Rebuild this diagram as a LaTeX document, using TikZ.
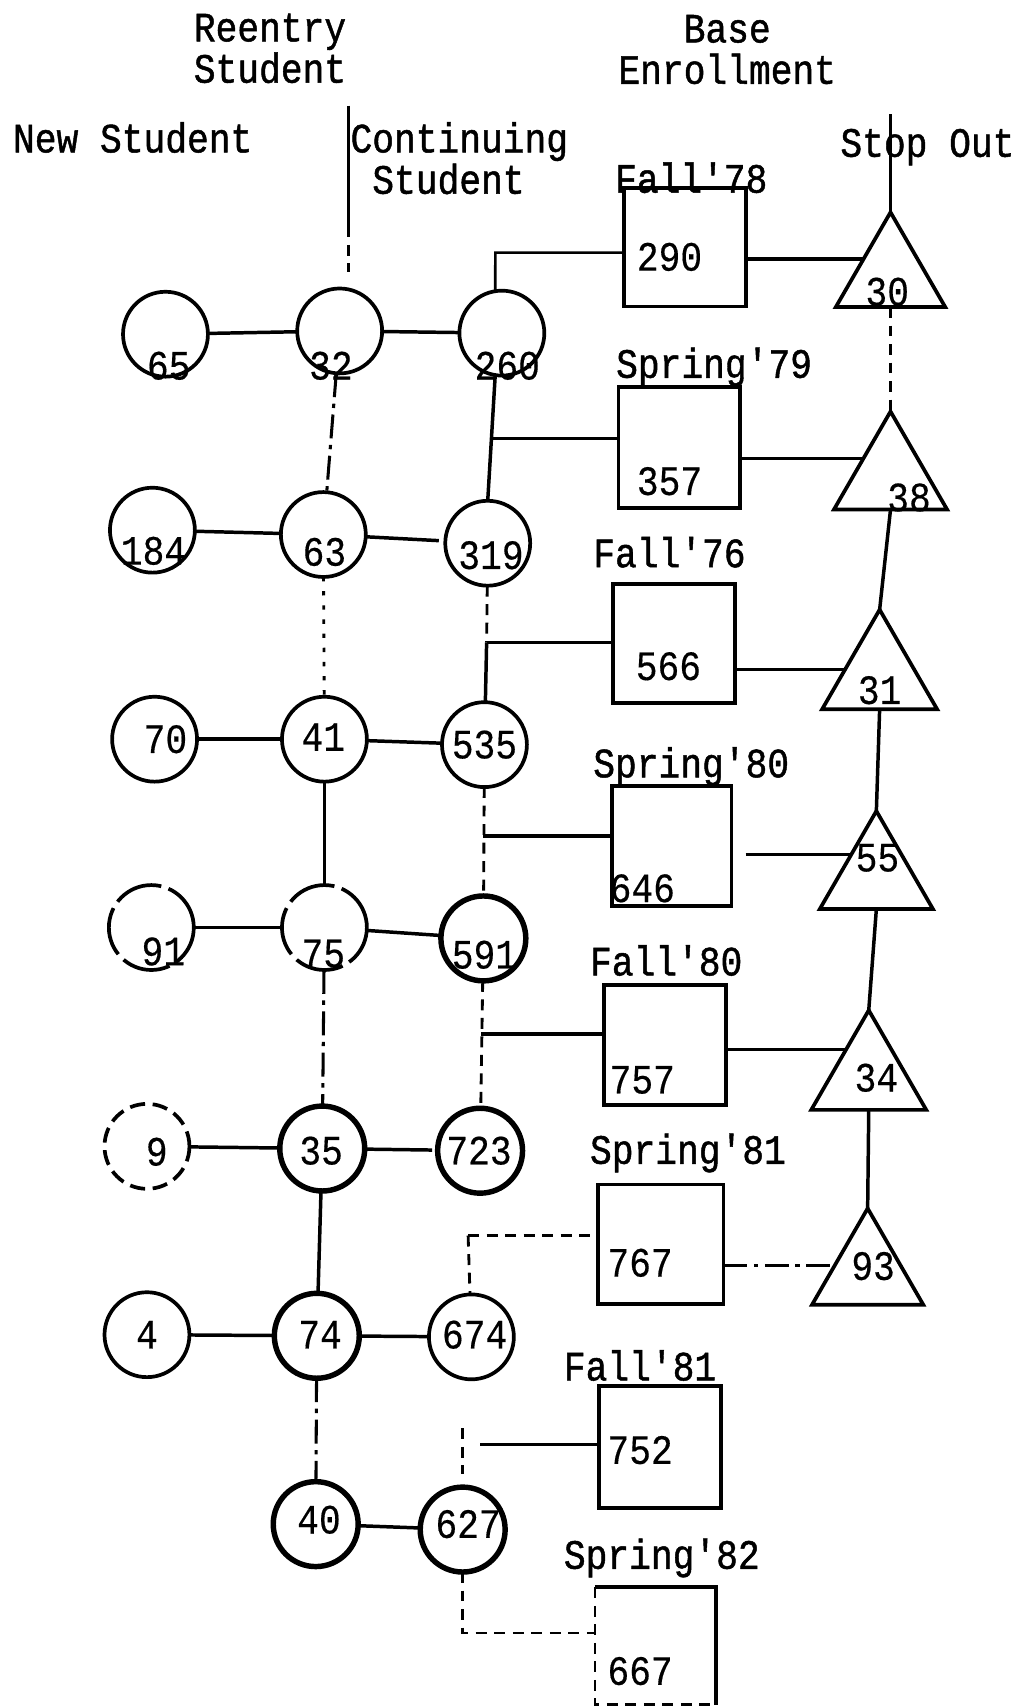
\documentclass[tikz,border=0pt]{standalone}
\usepackage{fontspec}
\usepackage{graphicx}
\newfontfamily\twfont{Liberation Mono}[Ligatures=TeXOff,FakeBold=0.4]
\newfontfamily\twhead{Liberation Mono}[Ligatures=TeXOff,FakeBold=1.2]
\usetikzlibrary{shapes.geometric,calc,backgrounds}
% typewriter lettering, slightly taller than the font's own proportions
\newcommand\tw[1]{\scalebox{1}[1.15]{#1}}

\begin{document}
\begin{tikzpicture}[x=1pt,y=-1pt,
  txt/.style={font=\twfont\fontsize{33.3}{40}\selectfont, inner sep=0pt, outer sep=0pt},
  hd/.style={font=\twhead\fontsize{33.3}{29.6}\selectfont, inner sep=0pt, outer sep=0pt},
  ln/.style={line width=3.2pt},
  thinln/.style={line width=2.4pt},
  dsh/.style={line width=2.6pt, dash pattern=on 10pt off 7pt},
  brk/.style={line width=2.8pt, dash pattern=on 22pt off 6pt on 4pt off 6pt},
  dots/.style={line width=2.6pt, dash pattern=on 4pt off 9pt},
  circ/.style={circle, draw, line width=3.4pt, minimum size=78pt, inner sep=0pt, outer sep=0pt},
  heavy/.style={line width=5pt},
  broken/.style={dash pattern=on 45pt off 7pt},
  boxn/.style={rectangle, draw, line width=3.4pt, inner sep=0pt, outer sep=0pt},
  tri/.style={regular polygon, regular polygon sides=3, draw, fill=white, line width=3.4pt, inner sep=0pt, outer sep=0pt},
]
\useasboundingbox (0,0) rectangle (938,1568);

% column headings
\node[hd, anchor=base] (hre) at (248,38)
  {\tw{\begin{tabular}[t]{@{}c@{}}Reentry\\Student\end{tabular}}};
\node[hd, anchor=base] (hbe) at (668,39)
  {\tw{\begin{tabular}[t]{@{}c@{}}Base\\Enrollment\end{tabular}}};
\node[hd, anchor=base west] (hnew) at (12,140) {\tw{New Student}};
\node[hd, anchor=base west] (hcon) at (322,140)
  {\tw{\begin{tabular}[t]{@{}l@{}}Continuing\\\hspace*{20pt}Student\end{tabular}}};
\node[hd, anchor=base west] (hstop) at (772,144) {\tw{Stop Out}};

% student circles
\node[circ] (c65) at (152,307) {};
\node[circ] (c32) at (312,304) {};
\node[circ] (c260) at (461,306) {};
\node[circ] (c184) at (140,487) {};
\node[circ] (c63) at (297,491) {};
\node[circ] (c319) at (448,499) {};
\node[circ] (c70) at (142,679) {};
\node[circ] (c41) at (298,679) {};
\node[circ] (c535) at (445,684) {};
\node[circ, broken] (c91) at (139,852) {};
\node[circ, broken] (c75) at (298,852) {};
\node[circ, heavy] (c591) at (444,862) {};
\node[circ, dash pattern=on 14pt off 7pt] (c9) at (135,1053) {};
\node[circ, heavy] (c35) at (296,1055) {};
\node[circ, heavy] (c723) at (441,1057) {};
\node[circ] (c4) at (135,1226) {};
\node[circ, heavy] (c74) at (291,1227) {};
\node[circ] (c674) at (433,1228) {};
\node[circ, heavy] (c40) at (290,1400) {};
\node[circ, heavy] (c627) at (425,1405) {};

\node[txt] (n65) at (155,336) {\tw{65}};
\node[txt] (n32) at (304,336) {\tw{32}};
\node[txt] (n260) at (466,336) {\tw{260}};
\node[txt] (n184) at (141,506) {\tw{184}};
\node[txt] (n63) at (298,507) {\tw{63}};
\node[txt] (n319) at (451,510) {\tw{319}};
\node[txt] (n70) at (152,679) {\tw{70}};
\node[txt] (n41) at (297,677) {\tw{41}};
\node[txt] (n535) at (445,684) {\tw{535}};
\node[txt] (n91) at (150,874) {\tw{91}};
\node[txt] (n75) at (297,876) {\tw{75}};
\node[txt] (n591) at (445,877) {\tw{591}};
\node[txt] (n9) at (144,1058) {\tw{9}};
\node[txt] (n35) at (295,1057) {\tw{35}};
\node[txt] (n723) at (440,1057) {\tw{723}};
\node[txt] (n4) at (135,1226) {\tw{4}};
\node[txt] (n74) at (294,1226) {\tw{74}};
\node[txt] (n674) at (436,1226) {\tw{674}};
\node[txt] (n40) at (293,1396) {\tw{40}};
\node[txt] (n627) at (430,1400) {\tw{627}};

% base enrollment boxes
\node[boxn, minimum width=112pt, minimum height=109pt] (b290) at (629,227) {};
\node[boxn, minimum width=112pt, minimum height=111pt] (b357) at (624,411) {};
\node[boxn, minimum width=112pt, minimum height=109pt] (b566) at (619,591) {};
\node[boxn, minimum width=110pt, minimum height=110pt] (b646) at (617,777) {};
\node[boxn, minimum width=112pt, minimum height=110pt] (b757) at (611,960) {};
\node[boxn, minimum width=115pt, minimum height=110pt] (b767) at (607,1143) {};
\node[boxn, minimum width=112pt, minimum height=112pt] (b752) at (606,1329) {};
\node[boxn, draw=none, minimum width=111pt, minimum height=108pt] (b667) at (602,1512) {};
\draw[line width=3.4pt] (b667.north west) -- (b667.north east) -- (b667.south east);
\draw[dsh] (b667.north west) -- (b667.south west) -- (b667.south east);

\node[hd, anchor=base west] (l290) at (565,177) {\tw{Fall'78}};
\node[hd, anchor=base west] (l357) at (566,347) {\tw{Spring'79}};
\node[hd, anchor=base west] (l566) at (545,521) {\tw{Fall'76}};
\node[hd, anchor=base west] (l646) at (545,714) {\tw{Spring'80}};
\node[hd, anchor=base west] (l757) at (542,896) {\tw{Fall'80}};
\node[hd, anchor=base west] (l767) at (542,1069) {\tw{Spring'81}};
\node[hd, anchor=base west] (l752) at (518,1268) {\tw{Fall'81}};
\node[hd, anchor=base west] (l667) at (518,1441) {\tw{Spring'82}};

\node[txt] (n290) at (615,236) {\tw{290}};
\node[txt] (n357) at (615,442) {\tw{357}};
\node[txt] (n566) at (614,612) {\tw{566}};
\node[txt] (n646) at (590,816) {\tw{646}};
\node[txt] (n757) at (590,992) {\tw{757}};
\node[txt] (n767) at (588,1160) {\tw{767}};
\node[txt] (n752) at (588,1332) {\tw{752}};
\node[txt] (n667) at (588,1535) {\tw{667}};

% stop-out triangles
\node[tri, minimum size=116pt] (t30) at (818,253) {};
\node[tri, minimum size=120pt] (t38) at (818,438) {};
\node[tri, minimum size=122pt] (t31) at (808,621) {};
\node[tri, minimum size=120pt] (t55) at (805,805) {};
\node[tri, minimum size=122pt] (t34) at (798,989) {};
\node[tri, minimum size=118pt] (t93) at (797,1169) {};

\node[txt] (n30) at (815,268) {\tw{30}};
\node[txt] (n38) at (835,457) {\tw{38}};
\node[txt] (n31) at (808,634) {\tw{31}};
\node[txt] (n55) at (806,788) {\tw{55}};
\node[txt] (n34) at (805,990) {\tw{34}};
\node[txt] (n93) at (802,1163) {\tw{93}};

\begin{scope}[on background layer]
  % rule under the reentry heading
  \coordinate (rtop) at (320,97);
  \coordinate (rmid) at (320,208);
  \coordinate (rend) at (320,250);
  \draw[ln] (rtop) -- (rmid);
  \draw[dsh] (rmid) -- (rend);

  % rows: new -- reentry -- continuing
  \draw[ln] (c65) -- (c32);
  \draw[ln] (c32) -- (c260);
  \draw[ln] (c184) -- (c63);
  \draw[ln, shorten >=6pt] (c63) -- (c319);
  \draw[ln] (c70) -- (c41);
  \draw[ln] (c41) -- (c535);
  \draw[ln] (c91) -- (c75);
  \draw[ln] (c75) -- (c591);
  \draw[ln] (c9) -- (c35);
  \draw[ln, shorten >=5pt] (c35) -- (c723);
  \draw[ln] (c4) -- (c74);
  \draw[ln] (c74) -- (c674);
  \draw[ln] (c40) -- (c627);

  % reentry column
  \draw[brk] (c32) -- (c63);
  \draw[dots] (c63) -- (c41);
  \draw[ln] (c41) -- (c75);
  \draw[brk] (c75) -- (c35);
  \draw[ln] (c35) -- (c74);
  \draw[brk] (c74) -- (c40);

  % continuing column and its links to the boxes
  \coordinate (j1) at (455,232);
  \draw[thinln] (c260.99) -- (j1) -- (j1 -| b290.west);
  \draw[ln] (c260.-99) -- (c319.north);
  \coordinate (j2) at (451,403);
  \draw[ln] (j2) -- (j2 -| b357.west);
  \coordinate (j3) at (447,590);
  \draw[dsh] (c319) -- (j3);
  \draw[ln] (j3) -- (c535);
  \draw[ln] (j3) -- (j3 -| b566.west);
  \coordinate (j4) at (444,768);
  \draw[dsh] (c535) -- (c591);
  \draw[ln] (j4) -- (j4 -| b646.west);
  \coordinate (j5) at (442,950);
  \draw[dsh] (c591) -- (c723);
  \draw[ln] (j5) -- (j5 -| b757.west);
  \coordinate (j6) at (430,1135);
  \draw[dsh] (j6) -- (j6 -| b767.west);
  \draw[dsh] (j6) -- (c674);
  \coordinate (j7a) at (425,1312);
  \coordinate (j7b) at (425,1354);
  \coordinate (j7c) at (441,1327);
  \draw[dsh] (j7a) -- (j7b);
  \draw[ln] (j7c) -- (j7c -| b752.west);
  \coordinate (j8) at (425,1500);
  \draw[dsh] (c627) -- (j8) -- (j8 -| b667.west);

  % stop-out column
  \coordinate (stop) at (818,105);
  \draw[ln] (stop) -- (t30.corner 1);
  \draw[dsh] (t30.side 2) -- (t38.corner 1);
  \draw[ln] (t38.side 2) -- (t31.corner 1);
  \draw[ln] (t31.side 2) -- (t55.corner 1);
  \draw[ln] (t55.side 2) -- (t34.corner 1);
  \draw[ln] (t34.side 2) -- (t93.corner 1);

  % boxes to triangles
  \coordinate (k1) at (b290.east |- 0,238);
  \draw[ln] (k1) -- (k1 -| t30.center);
  \coordinate (k2) at (b357.east |- 0,421);
  \draw[ln] (k2) -- (k2 -| t38.center);
  \coordinate (k3) at (b566.east |- 0,615);
  \draw[ln] (k3) -- (k3 -| t31.center);
  \coordinate (k4) at (685,785);
  \draw[ln] (k4) -- (k4 -| t55.center);
  \coordinate (k5) at (b757.east |- 0,964);
  \draw[ln] (k5) -- (k5 -| t34.center);
  \coordinate (k6) at (b767.east |- 0,1162);
  \draw[brk] (k6) -- (k6 -| t93.center);
\end{scope}
\end{tikzpicture}
\end{document}
